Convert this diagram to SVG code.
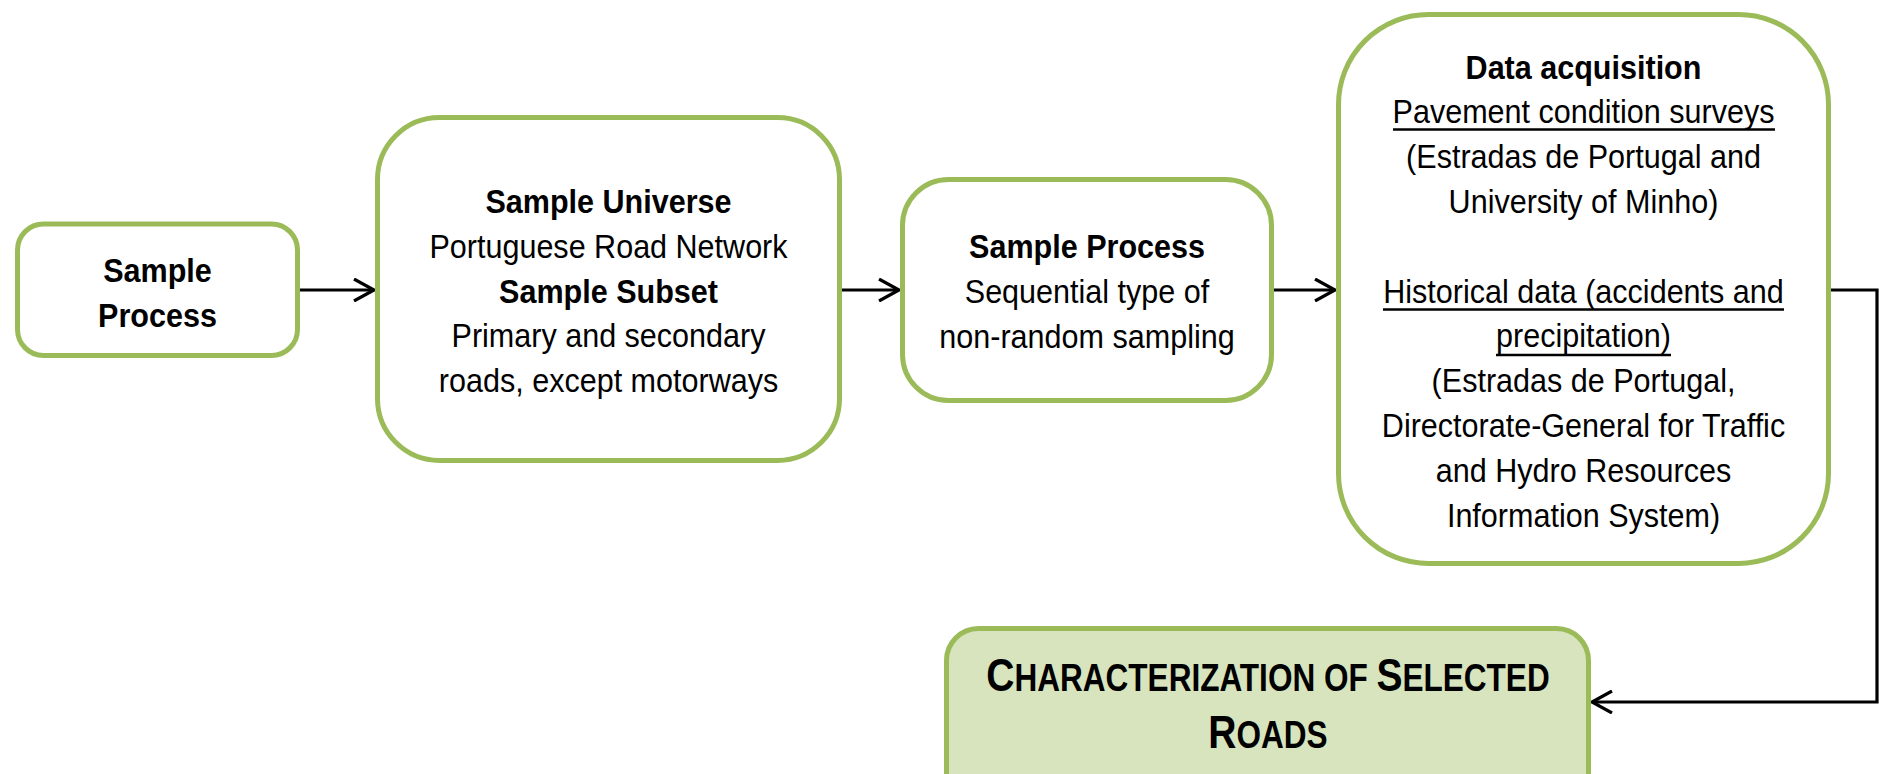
<svg xmlns="http://www.w3.org/2000/svg" width="1879" height="774" viewBox="0 0 1879 774">
<style>
.box{fill:#ffffff;stroke:#9BBB59;stroke-width:5}
.final{fill:#D7E4BD;stroke:#9BBB59;stroke-width:5}
text{font-family:"Liberation Sans",Arial,sans-serif;font-size:32.6px;fill:#000;text-anchor:middle}
.b{font-weight:bold}
.ul{stroke:#000;stroke-width:2.6}
.conn{fill:none;stroke:#000;stroke-width:3.2}
.title{font-weight:bold;font-size:47px}
.sc{font-size:38px}
</style>
<defs>
<marker id="arr" viewBox="0 0 24 24" refX="22" refY="12" markerWidth="24" markerHeight="24" markerUnits="userSpaceOnUse" orient="auto">
<path d="M2,1 L22,12 L2,23" fill="none" stroke="#000" stroke-width="3.2"/>
</marker>
</defs>
<rect width="1879" height="774" fill="#ffffff"/>
<g id="connectors">
<line class="conn" x1="298" y1="290" x2="374" y2="290" marker-end="url(#arr)"/>
<line class="conn" x1="840" y1="290" x2="899" y2="290" marker-end="url(#arr)"/>
<line class="conn" x1="1272" y1="290" x2="1335" y2="290" marker-end="url(#arr)"/>
<polyline class="conn" points="1829,290 1877,290 1877,702 1592,702" marker-end="url(#arr)"/>
</g>
<g id="node-sample-process-1">
<rect class="box" x="17.5" y="224" width="280" height="131.5" rx="26"/>
<g transform="translate(157.5 0) scale(0.937 1)">
<text class="b" x="0" y="282">Sample</text>
<text class="b" x="0" y="327">Process</text>
</g>
</g>
<g id="node-sample-universe">
<rect class="box" x="377.5" y="117.5" width="462" height="343" rx="62"/>
<g transform="translate(608.5 0) scale(0.937 1)">
<text class="b" x="0" y="213">Sample Universe</text>
<text x="0" y="258">Portuguese Road Network</text>
<text class="b" x="0" y="303">Sample Subset</text>
<text x="0" y="347">Primary and secondary</text>
<text x="0" y="392">roads, except motorways</text>
</g>
</g>
<g id="node-sample-process-2">
<rect class="box" x="902.5" y="179.5" width="369" height="221" rx="46"/>
<g transform="translate(1087 0) scale(0.937 1)">
<text class="b" x="0" y="258">Sample Process</text>
<text x="0" y="303">Sequential type of</text>
<text x="0" y="348">non-random sampling</text>
</g>
</g>
<g id="node-data-acquisition">
<rect class="box" x="1338.5" y="14.5" width="490" height="549" rx="90"/>
<g transform="translate(1583.5 0) scale(0.937 1)">
<text class="b" x="0" y="79">Data acquisition</text>
<text x="0" y="123">Pavement condition surveys</text>
<text x="0" y="168">(Estradas de Portugal and</text>
<text x="0" y="213">University of Minho)</text>
<text x="0" y="303">Historical data (accidents and</text>
<text x="0" y="347">precipitation)</text>
<text x="0" y="392">(Estradas de Portugal,</text>
<text x="0" y="437">Directorate-General for Traffic</text>
<text x="0" y="482">and Hydro Resources</text>
<text x="0" y="527">Information System)</text>
</g>
<line class="ul" x1="1393" y1="129.5" x2="1775" y2="129.5"/>
<line class="ul" x1="1383" y1="309.5" x2="1784" y2="309.5"/>
<line class="ul" x1="1496" y1="355" x2="1671" y2="355"/>
</g>
<g id="node-characterization">
<rect class="final" x="946.5" y="628.5" width="642" height="180" rx="32"/>
<g transform="translate(1268 0) scale(0.83 1)">
<text class="title" x="0" y="691">C<tspan class="sc">HARACTERIZATION OF </tspan>S<tspan class="sc">ELECTED</tspan></text>
<text class="title" x="0" y="748">R<tspan class="sc">OADS</tspan></text>
</g>
</g>
</svg>
